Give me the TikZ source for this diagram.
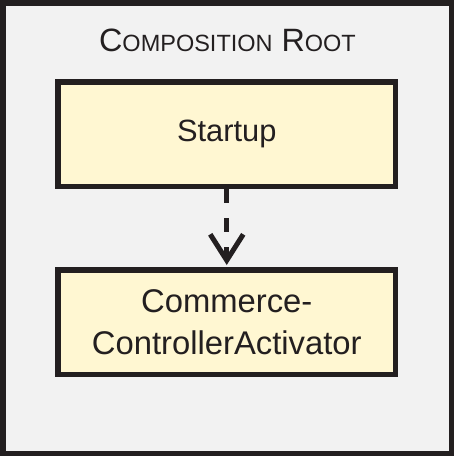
\documentclass[tikz,border=0pt]{standalone}
\usepackage{fontspec}
\setmainfont{Liberation Sans}
\usetikzlibrary{arrows.meta}
\definecolor{ink}{HTML}{231F20}
\definecolor{paper}{HTML}{F2F2F2}
\definecolor{note}{HTML}{FFF7D2}
\begin{document}
\begin{tikzpicture}[x=1pt,y=1pt,
	box/.style={draw=ink,fill=note,line width=5.5pt,minimum width=337.5pt,minimum height=104.5pt,text=ink,align=center}]
	\useasboundingbox (0,0) rectangle (454,-456);
	\draw[ink,fill=paper,line width=5.5pt] (2.75,-2.75) rectangle (451.25,-453.25);
	\node[anchor=base,text=ink,font=\fontsize{32.3}{32.3}\selectfont] (title) at (227.5,-51)
		{C{\fontsize{23.5}{23.5}\selectfont OMPOSITION} R{\fontsize{23.5}{23.5}\selectfont OOT}};
	\node[box,font=\fontsize{30.8}{30.8}\selectfont] (startup) at (226.75,-134) {Startup};
	\node[box,font=\fontsize{32.8}{42}\selectfont] (activator) at (226.75,-322) {Commerce-\\ControllerActivator};
	\draw[ink,line width=5pt,dash pattern=on 14pt off 15pt,shorten >=2pt,
		-{Straight Barb[length=26pt,width=33pt]}] (startup.south) -- (activator.north);
\end{tikzpicture}
\end{document}
